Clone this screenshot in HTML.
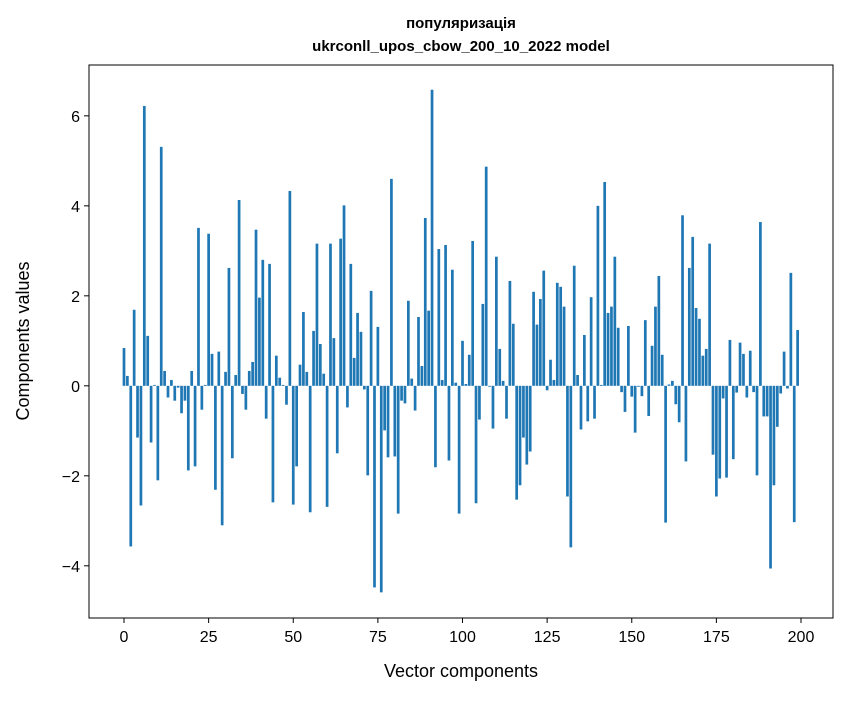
<!DOCTYPE html>
<html><head><meta charset="utf-8"><style>
body{margin:0;background:#fff;}
svg text{font-family:"Liberation Sans","DejaVu Sans",sans-serif;fill:#000;}
</style></head><body>
<svg id="chart" width="847" height="696" xmlns="http://www.w3.org/2000/svg">
<rect width="847" height="696" fill="#fff"/>
<text x="461" y="28" text-anchor="middle" font-size="15" font-weight="bold">популяризація</text>
<text x="461" y="51" text-anchor="middle" font-size="15" font-weight="bold">ukrconll_upos_cbow_200_10_2022 model</text>
<g id="bars"></g>
<g id="axes"></g>
<rect x="89" y="65" width="744" height="553" fill="none" stroke="#000" stroke-width="1"/>
<text x="461" y="677" text-anchor="middle" font-size="18">Vector components</text>
<text transform="translate(29,341) rotate(-90)" text-anchor="middle" font-size="18">Components values</text>
</svg>
<script>
const values = [0.84,0.22,-3.57,1.69,-1.15,-2.66,6.22,1.11,-1.26,0.02,-2.1,5.31,0.33,-0.26,0.13,-0.33,-0.04,-0.61,-0.33,-1.88,
0.33,-1.79,3.51,-0.53,0.02,3.38,0.71,-2.31,0.76,-3.1,0.31,2.62,-1.61,0.24,4.13,-0.18,-0.53,0.33,0.53,3.47,
1.96,2.8,-0.73,2.71,-2.59,0.67,0.18,0.02,-0.42,4.33,-2.64,-1.79,0.47,1.64,0.31,-2.81,1.22,3.16,0.93,0.27,
-2.69,3.16,1.06,-1.5,3.27,4.01,-0.48,2.71,0.62,1.62,1.2,-0.08,-1.99,2.11,-4.48,1.31,-4.59,-0.99,-1.59,4.6,
-1.57,-2.84,-0.33,-0.39,1.89,0.16,-0.55,1.53,0.44,3.73,1.67,6.58,-1.81,3.04,0.13,3.13,-1.66,2.58,0.07,-2.84,
1.0,0.04,0.69,3.22,-2.61,-0.75,1.82,4.87,-0.02,-0.95,2.87,0.82,0.11,-0.73,2.33,1.38,-2.53,-2.21,-1.15,-1.75,
-1.46,2.09,1.36,1.93,2.56,-0.1,0.58,0.13,2.29,2.2,1.76,-2.46,-3.59,2.67,0.24,-0.97,1.13,-0.79,1.97,-0.73,
4.0,0.02,4.53,1.62,1.76,2.87,1.29,-0.14,-0.58,1.33,-0.24,-1.04,-0.02,-0.23,1.46,-0.67,0.89,1.76,2.44,0.69,
-3.04,0.03,0.11,-0.41,-0.81,3.79,-1.68,2.62,3.31,1.73,1.49,0.67,0.82,3.16,-1.53,-2.46,-2.06,-0.28,-2.04,1.02,
-1.63,-0.15,0.96,0.71,-0.26,0.78,-0.14,-1.99,3.64,-0.68,-0.68,-4.06,-2.21,-0.91,-0.17,0.76,-0.06,2.51,-3.03,1.24];
const xTicks = [0,25,50,75,100,125,150,175,200];
const yTicks = [-4,-2,0,2,4,6];
const NS="http://www.w3.org/2000/svg";
const L=89,R=833,T=65,B=618, XMIN=-10.34, XMAX=209.45, YMIN=-5.16, YMAX=7.13;
const xs=v=>L+(v-XMIN)/(XMAX-XMIN)*(R-L);
const ys=v=>B-(v-YMIN)/(YMAX-YMIN)*(B-T);
const bars=document.getElementById('bars');
const bw=0.8*(R-L)/(XMAX-XMIN);
values.forEach((v,i)=>{
  const r=document.createElementNS(NS,'rect');
  const y0=ys(0), y1=ys(v);
  r.setAttribute('x',xs(i)-bw/2);
  r.setAttribute('y',Math.min(y0,y1));
  r.setAttribute('width',bw);
  r.setAttribute('height',Math.abs(y1-y0));
  r.setAttribute('fill','#1f77b4');
  
  
  bars.appendChild(r);
});
const axes=document.getElementById('axes');
xTicks.forEach(t=>{
  const x=xs(t);
  const l=document.createElementNS(NS,'line');
  l.setAttribute('x1',x);l.setAttribute('x2',x);l.setAttribute('y1',B);l.setAttribute('y2',B+5);
  l.setAttribute('stroke','#000');
  
  
  axes.appendChild(l);
  const tx=document.createElementNS(NS,'text');
  tx.setAttribute('x',x);tx.setAttribute('y',B+24);tx.setAttribute('text-anchor','middle');tx.setAttribute('font-size','16');
  tx.textContent=t;
  
  
  axes.appendChild(tx);
});
yTicks.forEach(t=>{
  const y=ys(t);
  const l=document.createElementNS(NS,'line');
  l.setAttribute('x1',L-5);l.setAttribute('x2',L);l.setAttribute('y1',y);l.setAttribute('y2',y);
  l.setAttribute('stroke','#000');
  
  
  axes.appendChild(l);
  const tx=document.createElementNS(NS,'text');
  tx.setAttribute('x',L-9);tx.setAttribute('y',y+6);tx.setAttribute('text-anchor','end');tx.setAttribute('font-size','16');
  tx.textContent=(t<0?'\u2212'+(-t):t);
  
  
  axes.appendChild(tx);
});
</script>
</body></html>
